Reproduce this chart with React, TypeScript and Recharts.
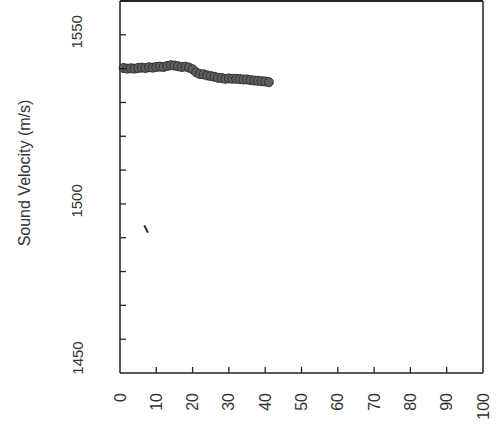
import React from "react";
import { ScatterChart, Scatter, XAxis, YAxis, ZAxis, ReferenceLine } from "recharts";

// depth (x) and sound velocity (m/s)
const depth = [1, 2, 3, 4, 5, 6, 7, 8, 9, 10, 11, 12, 13, 14, 15, 16, 17, 18, 19, 20, 21, 22, 23, 24, 25, 26, 27, 28, 29, 30, 31, 32, 33, 34, 35, 36, 37, 38, 39, 40, 41];
const velocity = [
  1540.2, 1540.0, 1540.1, 1540.0, 1540.2, 1540.3, 1540.2, 1540.4, 1540.3, 1540.5,
  1540.6, 1540.5, 1540.8, 1541.0, 1540.9, 1540.7, 1540.5, 1540.6, 1540.3, 1539.8,
  1538.9, 1538.4, 1538.3, 1538.0, 1537.8, 1537.6, 1537.3, 1537.2, 1537.0, 1537.1,
  1537.0, 1537.0, 1536.9, 1536.8, 1536.8, 1536.6, 1536.5, 1536.4, 1536.3, 1536.2,
  1536.0,
];
const strayDepth = [7.2];
const strayVelocity = [1492.6];

const xTicks = [0, 10, 20, 30, 40, 50, 60, 70, 80, 90, 100];
const yTicks = [1450, 1460, 1470, 1480, 1490, 1500, 1510, 1520, 1530, 1540, 1550, 1560];
const yLabelled = [1450, 1500, 1550];

const mainData = depth.map((d, i) => ({ x: d, y: velocity[i] }));
const strayData = strayDepth.map((d, i) => ({ x: d, y: strayVelocity[i] }));

const FONT = "'Liberation Sans', Arial, sans-serif";
const INK = "#222";

const XTick = (props: any) => {
  const { x, y, payload } = props;
  const v = payload.value;
  const ty = y + 20;
  return (
    <g>
      {v > 0 && v < 100 && <line x1={x} y1={y} x2={x} y2={y - 6} stroke={INK} strokeWidth={1.3} />}
      <text
        x={x}
        y={ty}
        transform={`rotate(-90, ${x}, ${ty})`}
        textAnchor="end"
        dominantBaseline="central"
        fontFamily={FONT}
        fontSize={16}
        fill="#333"
      >
        {v}
      </text>
    </g>
  );
};

const YTick = (props: any) => {
  const { x, y, payload } = props;
  const v = payload.value;
  const tx = 77;
  // bottom label sits a little above its tick in the original
  const ty = v === 1450 ? y - 15 : y - 3;
  return (
    <g>
      {v > 1450 && v < 1560 && <line x1={x} y1={y} x2={x + 6} y2={y} stroke={INK} strokeWidth={1.3} />}
      {yLabelled.includes(v) && (
        <text
          x={tx}
          y={ty}
          transform={`rotate(-90, ${tx}, ${ty})`}
          textAnchor="middle"
          dominantBaseline="central"
          fontFamily={FONT}
          fontSize={15}
          fill="#333"
        >
          {v}
        </text>
      )}
    </g>
  );
};

const Dash = (props: any) => {
  const { cx, cy } = props;
  return <line x1={cx - 1.5} y1={cy - 3} x2={cx + 1.5} y2={cy + 3} stroke="#333" strokeWidth={2} strokeLinecap="round" />;
};

export default function App() {
  return (
    <div style={{ position: "absolute", left: 0, top: 0, width: 496, height: 433, background: "#fff" }}>
      <ScatterChart width={496} height={433} margin={{ top: 1, right: 13, bottom: 0, left: 0 }}>
        <XAxis
          type="number"
          dataKey="x"
          domain={[0, 100]}
          ticks={xTicks}
          interval={0}
          height={60}
          tickSize={0}
          tickMargin={0}
          tickLine={false}
          axisLine={{ stroke: INK, strokeWidth: 1.5 }}
          tick={<XTick />}
        />
        <YAxis
          type="number"
          dataKey="y"
          domain={[1450, 1560]}
          ticks={yTicks}
          interval={0}
          width={120}
          tickSize={0}
          tickMargin={0}
          tickLine={false}
          axisLine={{ stroke: INK, strokeWidth: 1.5 }}
          tick={<YTick />}
          label={{
            value: "Sound Velocity (m/s)",
            content: () => (
              <text
                x={24}
                y={173}
                transform="rotate(-90, 24, 173)"
                textAnchor="middle"
                dominantBaseline="central"
                fontFamily={FONT}
                fontSize={16}
                fill="#333"
              >
                Sound Velocity (m/s)
              </text>
            ),
          }}
        />
        <ZAxis range={[120, 120]} />
        <ReferenceLine x={100} stroke={INK} strokeWidth={1.5} />
        <Scatter
          data={mainData}
          fill="#5f5f5f"
          stroke="#2e2e2e"
          strokeWidth={1}
          shape="circle"
          isAnimationActive={false}
          legendType="none"
        />
        <Scatter data={strayData} shape={<Dash />} isAnimationActive={false} legendType="none" />
      </ScatterChart>
      {/* top edge of the plot frame */}
      <div style={{ position: "absolute", left: 120, top: 0, width: 363, height: 2, background: INK }} />
    </div>
  );
}
